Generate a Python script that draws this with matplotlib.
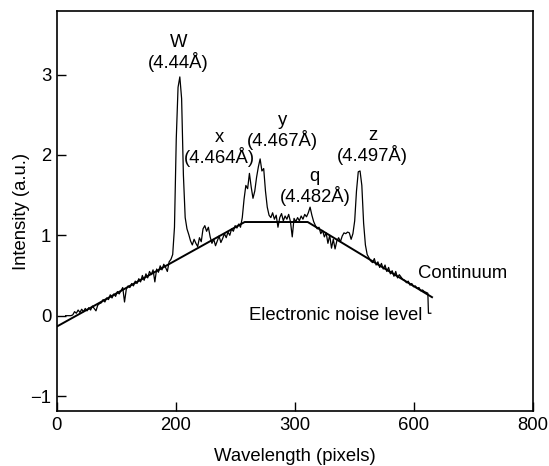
import numpy as np
import matplotlib
matplotlib.use("Agg")
import matplotlib.pyplot as plt

plt.rcParams['font.family'] = ['Liberation Sans', 'DejaVu Sans']

# ---- data ----
# spectrum sampled every 3 pixels from 15 to 624
pixels = np.arange(15, 625, 3)
intensity = [
    0.00, 0.00, 0.00, 0.00, 0.01, 0.05, 0.03, 0.07, 0.04, 0.08,
    0.05, 0.09, 0.06, 0.10, 0.07, 0.12, 0.09, 0.06, 0.13, 0.15,
    0.16, 0.20, 0.17, 0.22, 0.20, 0.26, 0.22, 0.27, 0.24, 0.30,
    0.27, 0.31, 0.35, 0.17, 0.33, 0.37, 0.35, 0.40, 0.37, 0.43,
    0.40, 0.46, 0.42, 0.50, 0.44, 0.52, 0.47, 0.55, 0.51, 0.57,
    0.42, 0.58, 0.54, 0.62, 0.57, 0.64, 0.60, 0.55, 0.67, 0.70,
    0.76, 1.10, 2.20, 2.84, 2.97, 2.70, 1.75, 1.22, 1.08, 1.01,
    0.93, 0.88, 0.95, 0.90, 0.86, 0.97, 0.92, 1.08, 1.12, 1.05,
    1.10, 0.98, 0.90, 0.95, 0.87, 0.93, 0.99, 0.91, 0.96, 1.02,
    0.97, 1.04, 1.00, 1.08, 1.05, 1.12, 1.09, 1.14, 1.10, 1.22,
    1.45, 1.62, 1.58, 1.77, 1.60, 1.46, 1.55, 1.72, 1.85, 1.95,
    1.80, 1.83, 1.55, 1.35, 1.25, 1.22, 1.28, 1.20, 1.25, 1.10,
    1.22, 1.27, 1.18, 1.24, 1.20, 1.26, 1.17, 0.98, 1.21, 1.17,
    1.22, 1.18, 1.24, 1.20, 1.26, 1.23, 1.28, 1.35, 1.25, 1.17,
    1.12, 1.08, 1.10, 1.02, 1.06, 0.98, 1.03, 0.90, 1.00, 0.84,
    0.95, 0.83, 0.93, 0.97, 0.92, 0.99, 1.03, 1.02, 1.04, 1.03,
    0.95, 1.02, 1.18, 1.55, 1.79, 1.80, 1.62, 1.15, 0.88, 0.76,
    0.72, 0.68, 0.66, 0.71, 0.63, 0.67, 0.60, 0.65, 0.58, 0.63,
    0.55, 0.60, 0.52, 0.56, 0.49, 0.55, 0.47, 0.51, 0.48, 0.45,
    0.44, 0.41, 0.43, 0.38, 0.40, 0.36, 0.37, 0.34, 0.35, 0.31,
    0.32, 0.30, 0.29, 0.28,
]
# drop to the electronic noise level at the end of the detector
tail_pixels = [625, 629]
tail_intensity = [0.03, 0.03]

continuum_x = [0, 316, 422, 631]
continuum_y = [-0.136, 1.165, 1.165, 0.23]

line_names = ["W", "x", "y", "q", "z"]
line_wavelengths = ["(4.44Å)", "(4.464Å)", "(4.467Å)", "(4.482Å)", "(4.497Å)"]
label_x = [205, 274, 380, 434, 531]
label_y = [3.40, 2.22, 2.43, 1.73, 2.24]

xtick_pos = [0, 200, 400, 600, 800]
xtick_labels = ["0", "200", "300", "600", "800"]
ytick_pos = [-1, 0, 1, 2, 3]
ytick_labels = ["\u22121", "0", "1", "2", "3"]

# ---- figure ----
fig = plt.figure(figsize=(5.49, 4.66), dpi=100)
ax = fig.add_axes([0.1033, 0.118, 0.8667, 0.8584])

spec_x = np.concatenate([pixels, tail_pixels])
spec_y = np.concatenate([intensity, tail_intensity])
ax.plot(spec_x, spec_y, color="black", lw=0.9)
ax.plot(continuum_x, continuum_y, color="black", lw=1.4)

fs = 13.3
for nm, wl, lx, ly in zip(line_names, line_wavelengths, label_x, label_y):
    ax.text(lx, ly, nm, ha="center", va="center", fontsize=fs)
    ax.text(lx, ly - 0.24, wl, ha="center", va="center", fontsize=fs)

ax.text(607, 0.52, "Continuum", ha="left", va="center", fontsize=fs)
ax.text(615, 0.0, "Electronic noise level", ha="right", va="center", fontsize=fs)

ax.set_xlim(0, 800)
ax.set_ylim(-1.186, 3.79)
ax.set_xticks(xtick_pos)
ax.set_xticklabels(xtick_labels)
ax.set_yticks(ytick_pos)
ax.set_yticklabels(ytick_labels)
ax.tick_params(direction="in", length=6.5, width=1.0, labelsize=fs, pad=4)
for s in ax.spines.values():
    s.set_linewidth(1.2)

ax.set_xlabel("Wavelength (pixels)", fontsize=fs, va="center")
ax.xaxis.set_label_coords(0.5, -0.1125)
ax.set_ylabel("Intensity (a.u.)", fontsize=fs, va="center")
ax.yaxis.set_label_coords(-0.075, 0.5)

fig.savefig("out.png", dpi=100)
